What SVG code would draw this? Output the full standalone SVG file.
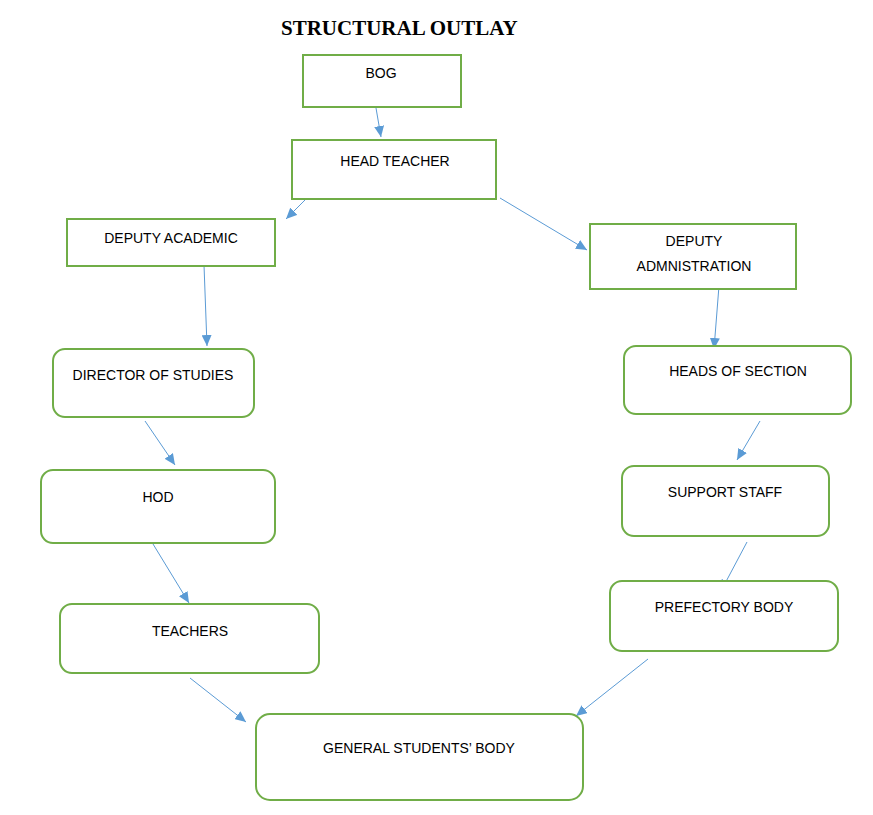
<svg xmlns="http://www.w3.org/2000/svg" width="873" height="815" viewBox="0 0 873 815">
<style>
.box{fill:#fff;stroke:#70AD47;stroke-width:2}
.lbl{font-family:"Liberation Sans",Arial,sans-serif;font-size:14px;fill:#000;text-anchor:middle}
.title{font-family:"Liberation Serif","Times New Roman",serif;font-weight:bold;font-size:21px;fill:#000}
.conn line{stroke:#5B9BD5;stroke-width:1;marker-end:url(#arr)}
</style>
<defs>
<marker id="arr" markerUnits="userSpaceOnUse" markerWidth="12" markerHeight="10" refX="11" refY="5" orient="auto">
<path d="M0,0 L11,5 L0,10 z" fill="#5B9BD5"/>
</marker>
</defs>
<rect width="873" height="815" fill="#fff"/>
<text class="title" x="281" y="35">STRUCTURAL OUTLAY</text>
<g class="conn" id="connectors">
<line x1="376" y1="108" x2="381" y2="137"/>
<line x1="307" y1="198" x2="286" y2="219"/>
<line x1="500" y1="198" x2="587" y2="250"/>
<line x1="204" y1="265" x2="207" y2="346"/>
<line x1="720" y1="273" x2="714" y2="349"/>
<line x1="145" y1="421" x2="175" y2="465"/>
<line x1="760" y1="421" x2="737" y2="460"/>
<line x1="153" y1="544" x2="189" y2="603"/>
<line x1="747" y1="542" x2="721" y2="591"/>
<line x1="190" y1="678" x2="246" y2="722"/>
<line x1="648" y1="659" x2="576" y2="716"/>
</g>
<g id="bog"><rect class="box" x="303" y="55" width="158" height="52"/><text class="lbl" x="381" y="78">BOG</text></g>
<g id="head-teacher"><rect class="box" x="292" y="140" width="204" height="59"/><text class="lbl" x="395" y="166">HEAD TEACHER</text></g>
<g id="deputy-academic"><rect class="box" x="67" y="219" width="208" height="47"/><text class="lbl" x="171" y="243">DEPUTY ACADEMIC</text></g>
<g id="deputy-admin"><rect class="box" x="590" y="224" width="206" height="65"/><text class="lbl" x="694" y="246">DEPUTY</text><text class="lbl" x="694" y="271">ADMNISTRATION</text></g>
<g id="director-studies"><rect class="box" x="53" y="349" width="201" height="68" rx="12"/><text class="lbl" x="153" y="380">DIRECTOR OF STUDIES</text></g>
<g id="heads-section"><rect class="box" x="624" y="346" width="227" height="68" rx="12"/><text class="lbl" x="738" y="376">HEADS OF SECTION</text></g>
<g id="hod"><rect class="box" x="41" y="470" width="234" height="73" rx="12"/><text class="lbl" x="158" y="502">HOD</text></g>
<g id="support-staff"><rect class="box" x="622" y="466" width="207" height="70" rx="12"/><text class="lbl" x="725" y="497">SUPPORT STAFF</text></g>
<g id="teachers"><rect class="box" x="60" y="604" width="259" height="69" rx="12"/><text class="lbl" x="190" y="636">TEACHERS</text></g>
<g id="prefectory"><rect class="box" x="610" y="581" width="228" height="70" rx="12"/><text class="lbl" x="724" y="612">PREFECTORY BODY</text></g>
<g id="general-students"><rect class="box" x="256" y="714" width="327" height="86" rx="14"/><text class="lbl" x="419" y="753">GENERAL STUDENTS’ BODY</text></g>
</svg>
